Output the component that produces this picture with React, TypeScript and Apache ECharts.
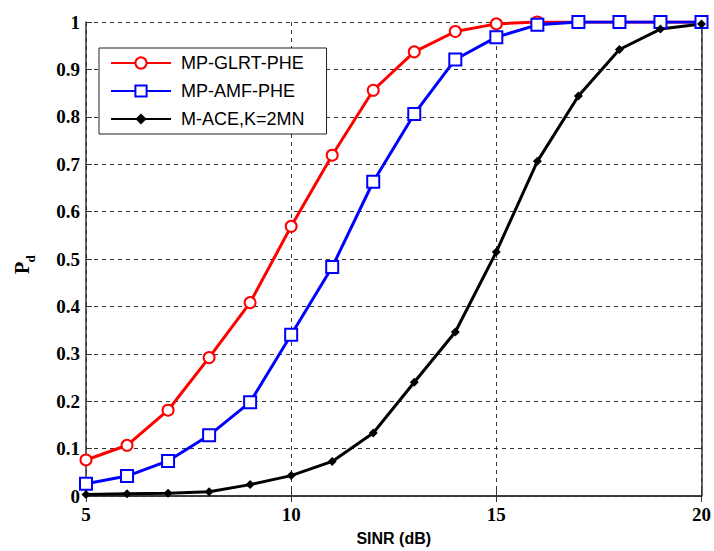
import React, { useEffect, useRef } from "react";
import * as echarts from "echarts";

const sinr = [5, 6, 7, 8, 9, 10, 11, 12, 13, 14, 15, 16, 17, 18, 19, 20];
const glrt = [0.076, 0.107, 0.181, 0.292, 0.408, 0.569, 0.719, 0.856, 0.937, 0.98, 0.996, 1.0, 1.0, 1.0, 1.0, 1.0];
const amf = [0.026, 0.042, 0.074, 0.128, 0.198, 0.34, 0.483, 0.663, 0.806, 0.921, 0.968, 0.994, 1.0, 1.0, 1.0, 1.0];
const ace = [0.003, 0.005, 0.006, 0.009, 0.024, 0.043, 0.073, 0.133, 0.24, 0.346, 0.515, 0.706, 0.844, 0.942, 0.985, 0.996];
const seriesNames = ["MP-GLRT-PHE", "MP-AMF-PHE", "M-ACE,K=2MN"];

const pair = (ys: number[]) => sinr.map((x, i) => [x, ys[i]]);

export default function App() {
  const ref = useRef<HTMLDivElement>(null);
  useEffect(() => {
    if (!ref.current) return;
    const chart = echarts.init(ref.current, null, { renderer: "svg" });
    const tickFont = { fontFamily: "Liberation Serif", fontWeight: "bold" as const, fontSize: 19, color: "#000" };
    const grid = { color: "#333", type: [4, 4] as number[], width: 1 };
    chart.setOption({
      animation: false,
      backgroundColor: "#fff",
      grid: { left: 86, right: 9, top: 22, bottom: 49, containLabel: false },
      xAxis: [
        {
          type: "value", min: 5, max: 20, interval: 5,
          axisLine: { show: true, lineStyle: { color: "#333", width: 1.5 } },
          axisTick: { inside: true, length: 6, lineStyle: { color: "#333" } },
          axisLabel: { ...tickFont, margin: 9 },
          splitLine: { show: true, lineStyle: grid },
          name: "SINR (dB)", nameLocation: "middle", nameGap: 34,
          nameTextStyle: { fontFamily: "Liberation Sans", fontWeight: "bold", fontSize: 16, color: "#000" },
        },
        {
          type: "value", min: 5, max: 20, interval: 5, position: "top",
          axisLine: { show: true, lineStyle: { color: "#333", width: 1.5 } },
          axisTick: { inside: true, length: 6, lineStyle: { color: "#333" } },
          axisLabel: { show: false }, splitLine: { show: false },
        },
      ],
      yAxis: [
        {
          type: "value", min: 0, max: 1, interval: 0.1,
          axisLine: { show: true, lineStyle: { color: "#333", width: 1.5 } },
          axisTick: { inside: true, length: 6, lineStyle: { color: "#333" } },
          axisLabel: { ...tickFont, margin: 6 },
          splitLine: { show: true, lineStyle: grid },
        },
        {
          type: "value", min: 0, max: 1, interval: 0.1, position: "right",
          axisLine: { show: true, lineStyle: { color: "#333", width: 1.5 } },
          axisTick: { inside: true, length: 6, lineStyle: { color: "#333" } },
          axisLabel: { show: false }, splitLine: { show: false },
        },
      ],
      legend: {
        orient: "vertical", left: 99, top: 48,
        data: seriesNames,
        itemWidth: 60, itemHeight: 14, itemGap: 8,
        padding: [5, 22, 5, 11],
        borderColor: "#222", borderWidth: 1, backgroundColor: "#fff",
        textStyle: { fontFamily: "Liberation Sans", fontSize: 18, color: "#000", lineHeight: 20, padding: [0, 0, 0, 5] },
      },
      graphic: [
        {
          type: "group", x: 22, y: 268, rotation: Math.PI / 2,
          children: [
            { type: "text", x: 0, y: 0, style: { text: "P", font: "bold 20px 'Liberation Serif'", fill: "#000", align: "center", verticalAlign: "middle" } },
            { type: "text", x: 9, y: 8, style: { text: "d", font: "bold 13px 'Liberation Serif'", fill: "#000", align: "center", verticalAlign: "middle" } },
          ],
        },
      ],
      series: [
        {
          name: seriesNames[0], type: "line", data: pair(glrt),
          symbol: "emptyCircle", symbolSize: 11,
          lineStyle: { color: "#ff0000", width: 3 },
          itemStyle: { color: "#ff0000", borderWidth: 2 },
        },
        {
          name: seriesNames[1], type: "line", data: pair(amf),
          symbol: "emptyRect", symbolSize: 12,
          lineStyle: { color: "#0000ff", width: 3 },
          itemStyle: { color: "#0000ff", borderWidth: 2 },
        },
        {
          name: seriesNames[2], type: "line", data: pair(ace),
          symbol: "diamond", symbolSize: 9,
          lineStyle: { color: "#000", width: 3 },
          itemStyle: { color: "#000" },
        },
      ],
    });
    return () => chart.dispose();
  }, []);
  return <div ref={ref} style={{ width: 714, height: 551, position: "absolute", left: 0, top: 0 }} />;
}
